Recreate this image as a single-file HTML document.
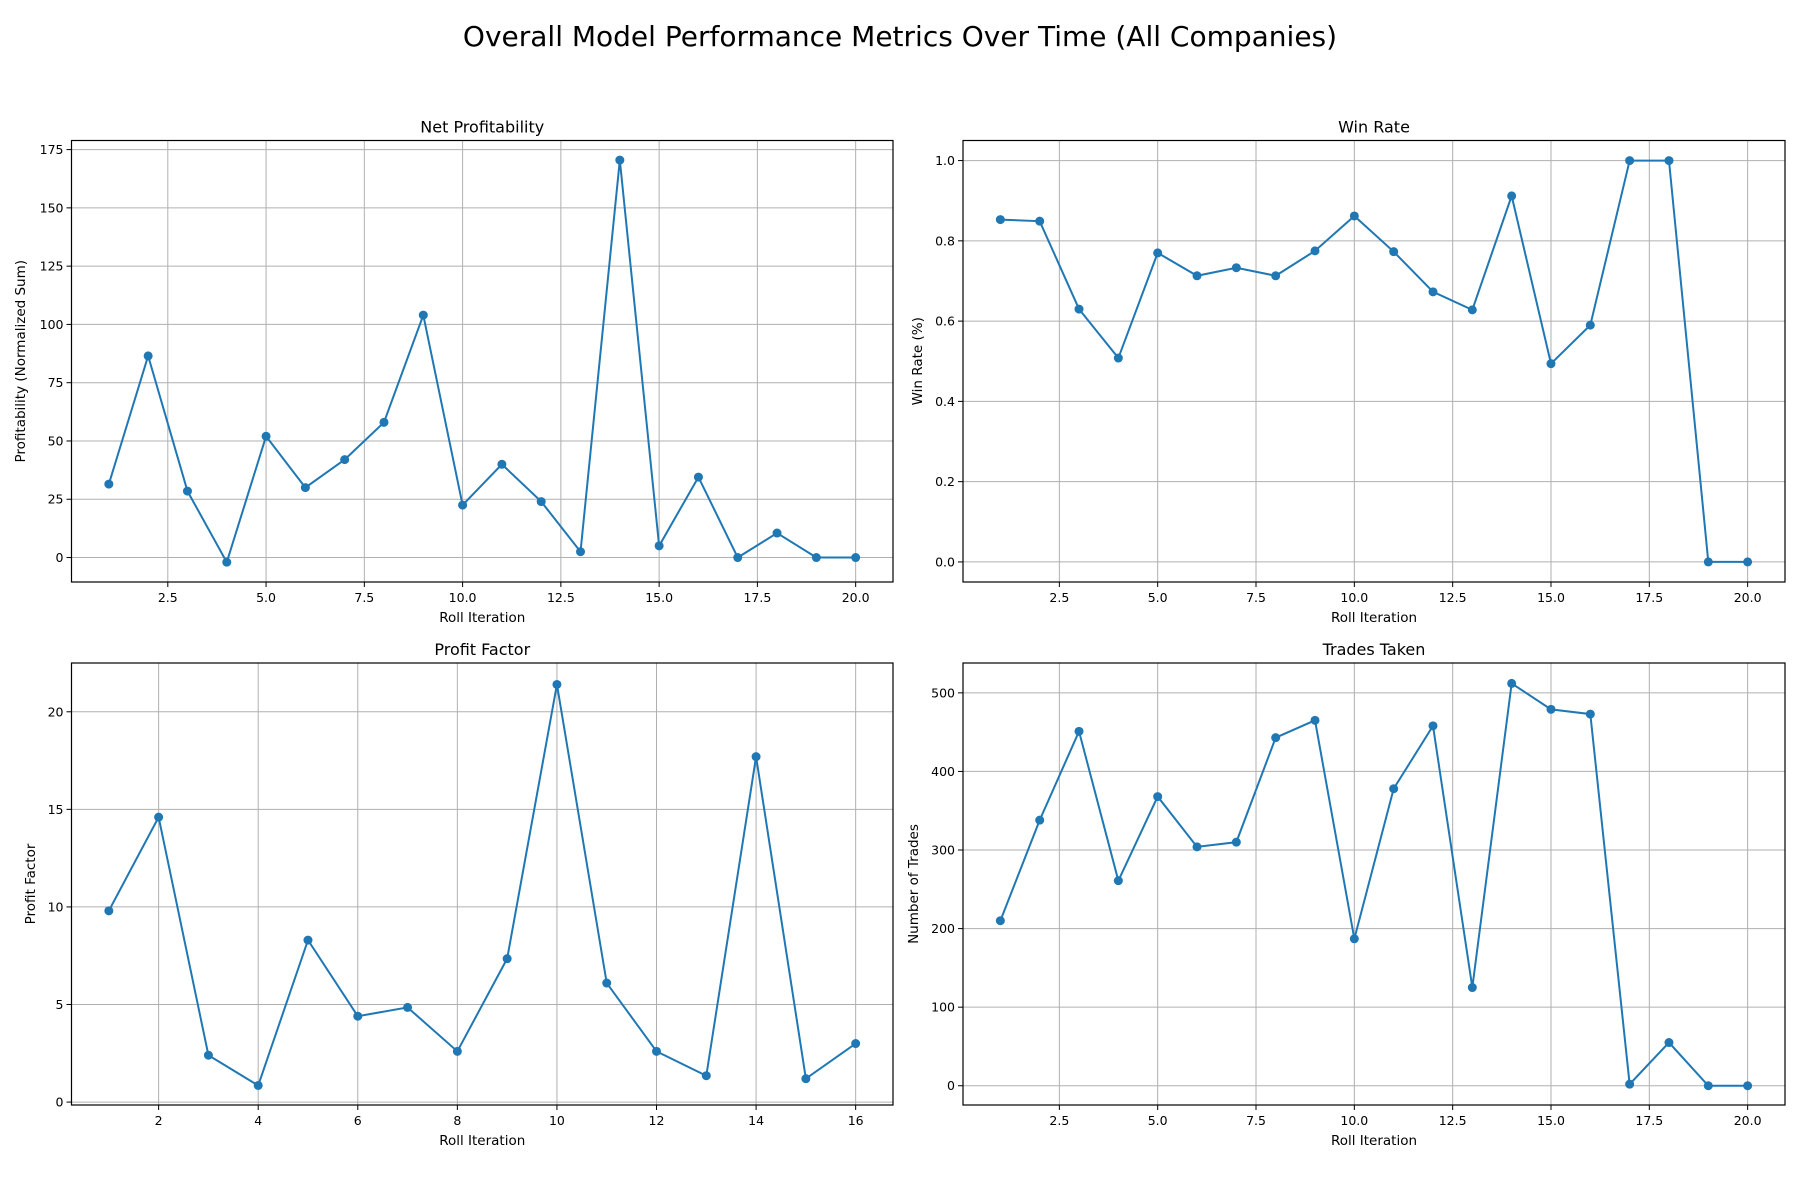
<!DOCTYPE html>
<html><head><meta charset="utf-8"><style>
body{margin:0;background:#fff}
svg{display:block;font-family:"DejaVu Sans","Liberation Sans",sans-serif}
</style></head><body>
<svg id="fig" width="1800" height="1200" viewBox="0 0 1800 1200">
<text x="900" y="46" font-size="28" text-anchor="middle">Overall Model Performance Metrics Over Time (All Companies)</text>
</svg>
<script>
const iterations20 = [1,2,3,4,5,6,7,8,9,10,11,12,13,14,15,16,17,18,19,20];
const iterations16 = [1,2,3,4,5,6,7,8,9,10,11,12,13,14,15,16];
const netProfit = [31.5,86.5,28.5,-2,52,30,42,58,104,22.5,40,24,2.5,170.5,5,34.5,0,10.5,0,0];
const winRate = [0.853,0.849,0.63,0.508,0.77,0.713,0.733,0.713,0.775,0.862,0.773,0.673,0.628,0.912,0.494,0.59,1,1,0,0];
const profitFactor = [9.8,14.6,2.4,0.85,8.3,4.4,4.85,2.6,7.35,21.4,6.1,2.6,1.35,17.7,1.2,3.0];
const tradesTaken = [210,338,451,261,368,304,310,443,465,187,378,458,125,512,479,473,2,55,0,0];
const xTicks20 = [2.5,5.0,7.5,10.0,12.5,15.0,17.5,20.0];
const xTicks16 = [2,4,6,8,10,12,14,16];
const npTicks = [0,25,50,75,100,125,150,175];
const wrTicks = [0.0,0.2,0.4,0.6,0.8,1.0];
const pfTicks = [0,5,10,15,20];
const ttTicks = [0,100,200,300,400,500];

const NS="http://www.w3.org/2000/svg";
const svg=document.getElementById('fig');
function mk(tag,attrs,parent){const e=document.createElementNS(NS,tag);for(const k in attrs)e.setAttribute(k,attrs[k]);(parent||svg).appendChild(e);return e;}

function panel(o){
  const g=mk('g',{});
  
  
  const L=o.box[0],T=o.box[1],R=o.box[2],B=o.box[3];
  const sx=v=>L+(v-o.xr[0])/(o.xr[1]-o.xr[0])*(R-L);
  const sy=v=>B-(v-o.yr[0])/(o.yr[1]-o.yr[0])*(B-T);
  o.xt.forEach((t,i)=>{
    const x=sx(t);
    const gl=mk('line',{x1:x,x2:x,y1:T,y2:B,stroke:'#b0b0b0','stroke-width':1},g);
    
    
    mk('line',{x1:x,x2:x,y1:B,y2:B+5,stroke:'#000','stroke-width':1},g);
    const tx=mk('text',{x:x,y:B+20,'font-size':12.5,'text-anchor':'middle'},g);
    tx.textContent=o.xl(t);
    
    
  });
  o.yt.forEach(t=>{
    const y=sy(t);
    const gl=mk('line',{x1:L,x2:R,y1:y,y2:y,stroke:'#b0b0b0','stroke-width':1},g);
    
    
    mk('line',{x1:L-5,x2:L,y1:y,y2:y,stroke:'#000','stroke-width':1},g);
    const tx=mk('text',{x:L-8,y:y+4.5,'font-size':12.5,'text-anchor':'end'},g);
    tx.textContent=o.yl(t);
    
    
  });
  const pts=o.xs.map((x,i)=>sx(x)+','+sy(o.ys[i])).join(' ');
  const pl=mk('polyline',{points:pts,fill:'none',stroke:'#1f77b4','stroke-width':2},g);
  
  
  o.xs.forEach((x,i)=>{
    const c=mk('circle',{cx:sx(x),cy:sy(o.ys[i]),r:4.5,fill:'#1f77b4'},g);
    
    
  });
  const fr=mk('rect',{x:L,y:T,width:R-L,height:B-T,fill:'none',stroke:'#000','stroke-width':1.2},g);
  
  
  const ti=mk('text',{x:(L+R)/2,y:T-8,'font-size':16,'text-anchor':'middle'},g);
  ti.textContent=o.title;
  
  
  const xl=mk('text',{x:(L+R)/2,y:B+40,'font-size':13.5,'text-anchor':'middle'},g);
  xl.textContent='Roll Iteration';
  
  
  const cy=(T+B)/2;
  const yl=mk('text',{x:o.ylx,y:cy,'font-size':13.5,'text-anchor':'middle',transform:`rotate(-90 ${o.ylx} ${cy})`},g);
  yl.textContent=o.ytitle;
  
  
}
const f1=v=>v.toFixed(1);
panel({name:'net-profitability-panel',box:[71.5,140.5,893,582],xr:[0.05,20.95],yr:[-10.5,178.9],xt:xTicks20,yt:npTicks,xl:f1,yl:v=>String(v),xs:iterations20,ys:netProfit,title:'Net Profitability',ytitle:'Profitability (Normalized Sum)',ylx:25});
panel({name:'win-rate-panel',box:[963,140.5,1785,582],xr:[0.05,20.95],yr:[-0.05,1.05],xt:xTicks20,yt:wrTicks,xl:f1,yl:f1,xs:iterations20,ys:winRate,title:'Win Rate',ytitle:'Win Rate (%)',ylx:922});
panel({name:'profit-factor-panel',box:[71.5,663,893,1105],xr:[0.25,16.75],yr:[-0.15,22.5],xt:xTicks16,yt:pfTicks,xl:v=>String(v),yl:v=>String(v),xs:iterations16,ys:profitFactor,title:'Profit Factor',ytitle:'Profit Factor',ylx:35});
panel({name:'trades-taken-panel',box:[963,663,1785,1105],xr:[0.05,20.95],yr:[-24.5,538],xt:xTicks20,yt:ttTicks,xl:f1,yl:v=>String(v),xs:iterations20,ys:tradesTaken,title:'Trades Taken',ytitle:'Number of Trades',ylx:918});
</script>
</body></html>
